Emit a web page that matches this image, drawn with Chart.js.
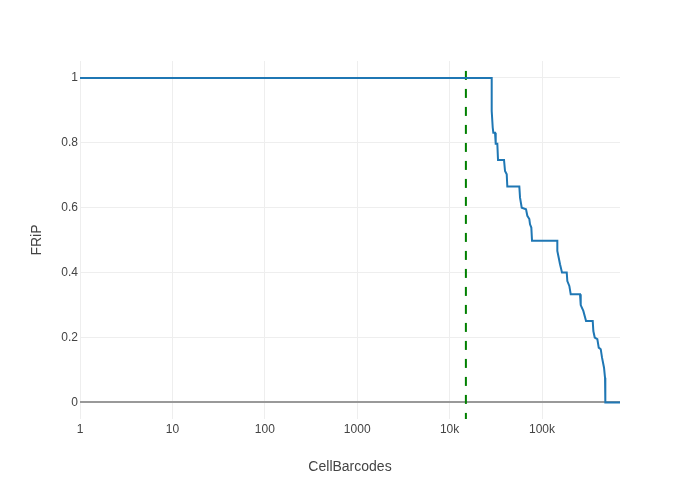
<!DOCTYPE html>
<html>
<head>
<meta charset="utf-8">
<script src="https://cdn.jsdelivr.net/npm/chart.js@4"></script>
<style>
    html, body { margin: 0; padding: 0; background: #fff; }
    #wrap { width: 700px; height: 500px; }
</style>
</head>
<body>
<div id="wrap"><canvas id="fripChart" width="700" height="500"></canvas></div>
<script>
// barcode rank (x) and FRiP value (y) at each corner of the curve
const cellRank = [1, 28540, 28540, 29270, 29710, 31000, 31540, 32830, 33410, 38790, 39770, 41490,
    42110, 56810, 57810, 60310, 67120, 69340, 72880, 74150, 76600, 77950, 146400, 146400,
    151600, 156600, 164600, 185100, 187900, 197500, 204500, 257800, 262300, 279900, 299500,
    353800, 359200, 371900, 396800, 410900, 431900, 446100, 468800, 480700, 484300, 698000];
const frip = [1, 1, 0.898, 0.847, 0.831, 0.831, 0.797, 0.797, 0.747, 0.747, 0.713, 0.703,
    0.665, 0.665, 0.631, 0.6, 0.595, 0.575, 0.565, 0.549, 0.539, 0.498, 0.498, 0.467,
    0.446, 0.426, 0.4, 0.4, 0.374, 0.359, 0.333, 0.333, 0.3, 0.282, 0.251,
    0.251, 0.22, 0.2, 0.195, 0.169, 0.164, 0.138, 0.107, 0.076, 0, 0];

// dashed cutoff line
const cutoffX = [15000, 15000];
const cutoffY = [-0.06, 1.025];

const xTicks = [1, 10, 100, 1000, 10000, 100000];
const xTickLabels = ['1', '10', '100', '1000', '10k', '100k'];
const yTicks = [0, 0.2, 0.4, 0.6, 0.8, 1];

const fontFamily = '"Liberation Sans", Arial, sans-serif';

const ctx = document.getElementById('fripChart').getContext('2d');
new Chart(ctx, {
    type: 'line',
    data: {
        datasets: [
            {
                label: 'FRiP',
                data: cellRank.map((x, i) => ({ x: x, y: frip[i] })),
                borderColor: '#1f77b4',
                borderWidth: 2,
                pointRadius: 0,
                tension: 0,
                fill: false,
                order: 1
            },
            {
                label: 'cutoff',
                data: cutoffX.map((x, i) => ({ x: x, y: cutoffY[i] })),
                borderColor: 'green',
                borderWidth: 2,
                borderDash: [9, 9],
                pointRadius: 0,
                fill: false,
                order: 2
            }
        ]
    },
    options: {
        responsive: false,
        animation: false,
        layout: {
            padding: { left: 0, right: 80, top: 61, bottom: 0 }
        },
        plugins: {
            legend: { display: false },
            tooltip: { enabled: false }
        },
        scales: {
            x: {
                type: 'logarithmic',
                min: 1,
                max: 698000,
                afterBuildTicks: scale => {
                    scale.ticks = xTicks.map(v => ({ value: v }));
                },
                afterFit: scale => {
                    scale.height = 81;
                },
                border: { display: false },
                grid: {
                    color: '#eeeeee',
                    lineWidth: 1,
                    drawTicks: false
                },
                ticks: {
                    padding: 3,
                    color: '#444',
                    maxRotation: 0,
                    font: { family: fontFamily, size: 12 },
                    callback: function(value) {
                        const i = xTicks.indexOf(value);
                        return i >= 0 ? xTickLabels[i] : '';
                    }
                },
                title: {
                    display: true,
                    text: 'CellBarcodes',
                    color: '#444',
                    font: { family: fontFamily, size: 14 },
                    padding: { top: 0, bottom: 24 }
                }
            },
            y: {
                type: 'linear',
                min: -0.051,
                max: 1.052,
                afterBuildTicks: scale => {
                    scale.ticks = yTicks.map(v => ({ value: v }));
                },
                afterFit: scale => {
                    scale.width = 80;
                },
                border: { display: false },
                grid: {
                    color: context => context.tick && context.tick.value === 0 ? '#999999' : '#eeeeee',
                    lineWidth: context => context.tick && context.tick.value === 0 ? 2 : 1,
                    drawTicks: false
                },
                ticks: {
                    padding: 2,
                    color: '#444',
                    font: { family: fontFamily, size: 12 },
                    callback: value => String(Math.round(value * 10) / 10)
                },
                title: {
                    display: true,
                    text: 'FRiP',
                    color: '#444',
                    font: { family: fontFamily, size: 14 },
                    padding: { top: 29, bottom: 0 }
                }
            }
        }
    }
});
</script>
</body>
</html>
